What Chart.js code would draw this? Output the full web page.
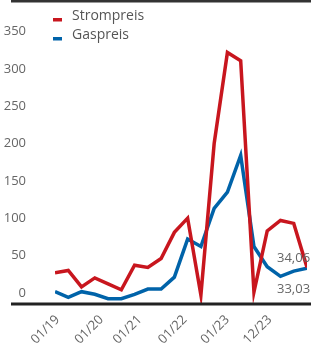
<!DOCTYPE html>
<html>
<head>
<meta charset="utf-8">
<script src="https://cdn.jsdelivr.net/npm/chart.js@4"></script>
<style>
  body { margin: 0; background: #fff; }
  #wrap { width: 311px; height: 344px; position: relative; }
</style>
</head>
<body>
<div id="wrap"><canvas id="preisChart"></canvas></div>
<script>
// Werte (Index = Messpunkt)
const strompreis = [27, 30, 8, 20, 12, 4, 37, 34, 46, 81, 100, -3, 200, 322, 311, 1, 83, 97, 93, 34.06];
const gaspreis = [1.5, -6, 1.5, -2, -8, -8, -2, 5, 5, 21, 72, 62, 113, 135, 184, 62, 35, 22, 29, 33.03];

// Achsenbeschriftungen
const xTickLabels = ['01/19', '01/20', '01/21', '01/22', '01/23', '12/23'];
const xTickAt = [0.2, 3.5, 6.4, 9.8, 13.0, 16.2];
const yTicks = [0, 50, 100, 150, 200, 250, 300, 350];

const seriesNames = ['Strompreis', 'Gaspreis'];
const colors = ['#c8161e', '#0063a9'];

const fmt = v => v.toFixed(2).replace('.', ',');

// Rahmenlinien, Legende und Endwerte
const extras = {
    id: 'extras',
    afterDraw(chart) {
        const ctx = chart.ctx;
        const area = chart.chartArea;
        ctx.save();
        ctx.fillStyle = '#333';
        ctx.fillRect(11, 0, 300, 2.5);
        ctx.fillStyle = '#222';
        ctx.fillRect(11, area.bottom - 1.5, 300, 3);

        // Legende
        ctx.font = '14px "Open Sans"';
        ctx.textBaseline = 'middle';
        ctx.textAlign = 'left';
        seriesNames.forEach((name, i) => {
            const y = 16 + i * 19;
            ctx.fillStyle = colors[i];
            ctx.fillRect(53, y + 2, 9, 3.5);
            ctx.fillStyle = '#555';
            ctx.fillText(name, 72, y);
        });

        // Endwerte
        ctx.font = '13px "Open Sans"';
        ctx.fillStyle = '#666';
        const last = strompreis.length - 1;
        const xs = chart.scales.x, ys = chart.scales.y;
        const lx = xs.getPixelForValue(last) - 30;
        ctx.fillText(fmt(strompreis[last]), lx, ys.getPixelForValue(strompreis[last]) - 9);
        ctx.fillText(fmt(gaspreis[last]), lx, ys.getPixelForValue(gaspreis[last]) + 21);
        ctx.restore();
    }
};

const ctx = document.getElementById('preisChart').getContext('2d');
new Chart(ctx, {
    type: 'line',
    data: {
        datasets: [
            {
                label: seriesNames[0],
                data: strompreis.map((y, i) => ({ x: i, y })),
                borderColor: colors[0],
                borderWidth: 3.5,
            },
            {
                label: seriesNames[1],
                data: gaspreis.map((y, i) => ({ x: i, y })),
                borderColor: colors[1],
                borderWidth: 3.5,
            }
        ]
    },
    options: {
        responsive: true,
        maintainAspectRatio: false,
        animation: false,
        elements: { point: { radius: 0 }, line: { tension: 0 } },
        layout: { padding: { top: 4, right: 4, left: 0, bottom: 0 } },
        plugins: { legend: { display: false }, tooltip: { enabled: false } },
        scales: {
            x: {
                type: 'linear',
                min: 0,
                max: strompreis.length - 1,
                grid: { display: false },
                border: { display: false },
                afterBuildTicks: s => { s.ticks = xTickAt.map(v => ({ value: v })); },
                afterFit: s => { s.height = 40; s.paddingLeft = 0; s.paddingRight = 0; },
                ticks: {
                    autoSkip: false,
                    minRotation: 45,
                    maxRotation: 45,
                    padding: 0,
                    color: '#666',
                    font: { family: 'Open Sans', size: 13 },
                    callback: (v, i) => xTickLabels[i]
                }
            },
            y: {
                min: -15,
                max: 387,
                grid: { display: false },
                border: { display: false },
                afterBuildTicks: s => { s.ticks = yTicks.map(v => ({ value: v })); },
                afterFit: s => { s.width = 55; s.paddingTop = 0; s.paddingBottom = 0; },
                ticks: {
                    padding: 21,
                    color: '#666',
                    font: { family: 'Open Sans', size: 13 }
                }
            }
        }
    },
    plugins: [extras]
});
</script>
</body>
</html>
